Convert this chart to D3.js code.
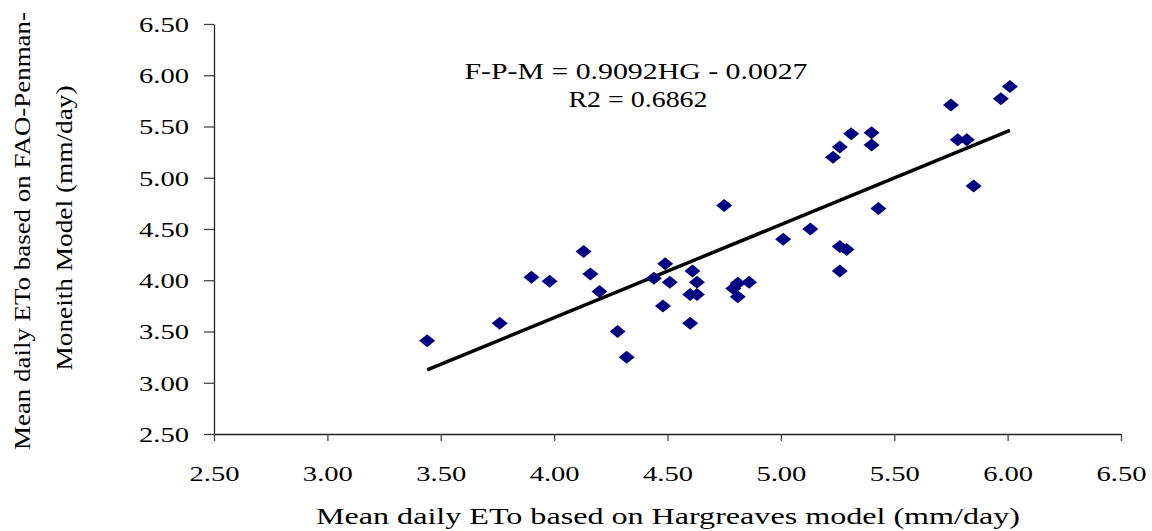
<!DOCTYPE html>
<html>
<head>
<meta charset="utf-8">
<script src="https://cdn.jsdelivr.net/npm/d3@7"></script>
<style>
  html, body { margin: 0; padding: 0; background: #fff; }
  svg { display: block; }
  text { font-family: "Liberation Serif", "Times New Roman", serif; fill: #000; }
</style>
</head>
<body>
<svg id="chart" width="1152" height="531"></svg>
<script>
// Hargreaves (x) vs FAO-Penman-Monteith (y), mm/day
const hgValues = [3.44, 3.76, 3.90, 3.98, 4.13, 4.16, 4.20, 4.28, 4.32, 4.44, 4.49, 4.51, 4.48,
  4.61, 4.63, 4.60, 4.63, 4.60, 4.75, 4.79, 4.81, 4.86, 4.81, 5.01, 5.13, 5.26, 5.29, 5.26,
  5.23, 5.26, 5.31, 5.40, 5.40, 5.43, 5.75, 5.78, 5.82, 5.85, 5.97, 6.01];
const fpmValues = [3.41, 3.58, 4.03, 3.99, 4.28, 4.06, 3.89, 3.50, 3.25, 4.02, 4.16, 3.98, 3.75,
  4.09, 3.98, 3.86, 3.86, 3.58, 4.73, 3.92, 3.97, 3.98, 3.84, 4.40, 4.50, 4.33, 4.30, 4.09,
  5.20, 5.30, 5.43, 5.44, 5.32, 4.70, 5.71, 5.37, 5.37, 4.92, 5.77, 5.89];
const tickValues = [2.50, 3.00, 3.50, 4.00, 4.50, 5.00, 5.50, 6.00, 6.50];
const trendSlope = [0.9092];
const trendIntercept = [-0.0027];
const equationText = ["F-P-M = 0.9092HG - 0.0027", "R2 = 0.6862"];
const xTitle = "Mean daily ETo based on Hargreaves model (mm/day)";
const yTitle = ["Mean daily ETo based on FAO-Penman-", "Moneith Model (mm/day)"];

const svg = d3.select("#chart");
const x = d3.scaleLinear().domain([2.5, 6.5]).range([214, 1121]);
const y = d3.scaleLinear().domain([2.5, 6.5]).range([434, 24]);
const fmt = d3.format(".2f");

// Axes
const yAxis = svg.append("g").attr("transform", "translate(214,0)")
  .call(d3.axisLeft(y).tickValues(tickValues).tickFormat(fmt).tickSize(10).tickSizeOuter(0));
const xAxis = svg.append("g").attr("transform", "translate(0,434)")
  .call(d3.axisBottom(x).tickValues(tickValues).tickFormat(fmt).tickSize(7).tickSizeOuter(0));

[yAxis, xAxis].forEach(g => {
  g.select(".domain").attr("stroke", "#222").attr("stroke-width", 1.3);
  g.selectAll(".tick line").attr("stroke", "#444").attr("stroke-width", 1.3);
  g.selectAll(".tick text").attr("font-size", 22)
    .attr("font-family", "Liberation Serif, serif").attr("fill", "#000")
    .attr("textLength", 50).attr("lengthAdjust", "spacingAndGlyphs");
});
yAxis.selectAll(".tick text").attr("x", -25).attr("dy", "0.34em");
xAxis.selectAll(".tick text").attr("y", 47).attr("dy", 0);
// center x labels: text-anchor middle with textLength
xAxis.selectAll(".tick text").attr("text-anchor", "middle");

// Trend line
const xs = d3.extent(hgValues);
const lineData = xs.map(v => [v, trendSlope[0] * v + trendIntercept[0]]);
svg.append("path")
  .attr("d", d3.line().x(d => x(d[0])).y(d => y(d[1]))(lineData))
  .attr("stroke", "#000").attr("stroke-width", 3.5).attr("fill", "none");

// Diamonds
const pts = hgValues.map((v, i) => [v, fpmValues[i]]);
svg.append("g").selectAll("path").data(pts).join("path")
  .attr("transform", d => `translate(${x(d[0])},${y(d[1])})`)
  .attr("d", "M0,-6.5L8,0L0,6.5L-8,0Z")
  .attr("fill", "#000080");

// Equation
svg.append("text").attr("x", 636).attr("y", 79).attr("text-anchor", "middle")
  .attr("font-size", 24).attr("textLength", 343).attr("lengthAdjust", "spacingAndGlyphs")
  .text(equationText[0]);
svg.append("text").attr("x", 638).attr("y", 107).attr("text-anchor", "middle")
  .attr("font-size", 24).attr("textLength", 139).attr("lengthAdjust", "spacingAndGlyphs")
  .text(equationText[1]);

// Axis titles
svg.append("text").attr("x", 668).attr("y", 524).attr("text-anchor", "middle")
  .attr("font-size", 24).attr("textLength", 704).attr("lengthAdjust", "spacingAndGlyphs")
  .text(xTitle);
svg.append("text").attr("transform", "translate(30,231) rotate(-90)").attr("text-anchor", "middle")
  .attr("font-size", 23).attr("textLength", 438).attr("lengthAdjust", "spacingAndGlyphs")
  .text(yTitle[0]);
svg.append("text").attr("transform", "translate(72,228) rotate(-90)").attr("text-anchor", "middle")
  .attr("font-size", 23).attr("textLength", 285).attr("lengthAdjust", "spacingAndGlyphs")
  .text(yTitle[1]);
</script>
</body>
</html>
